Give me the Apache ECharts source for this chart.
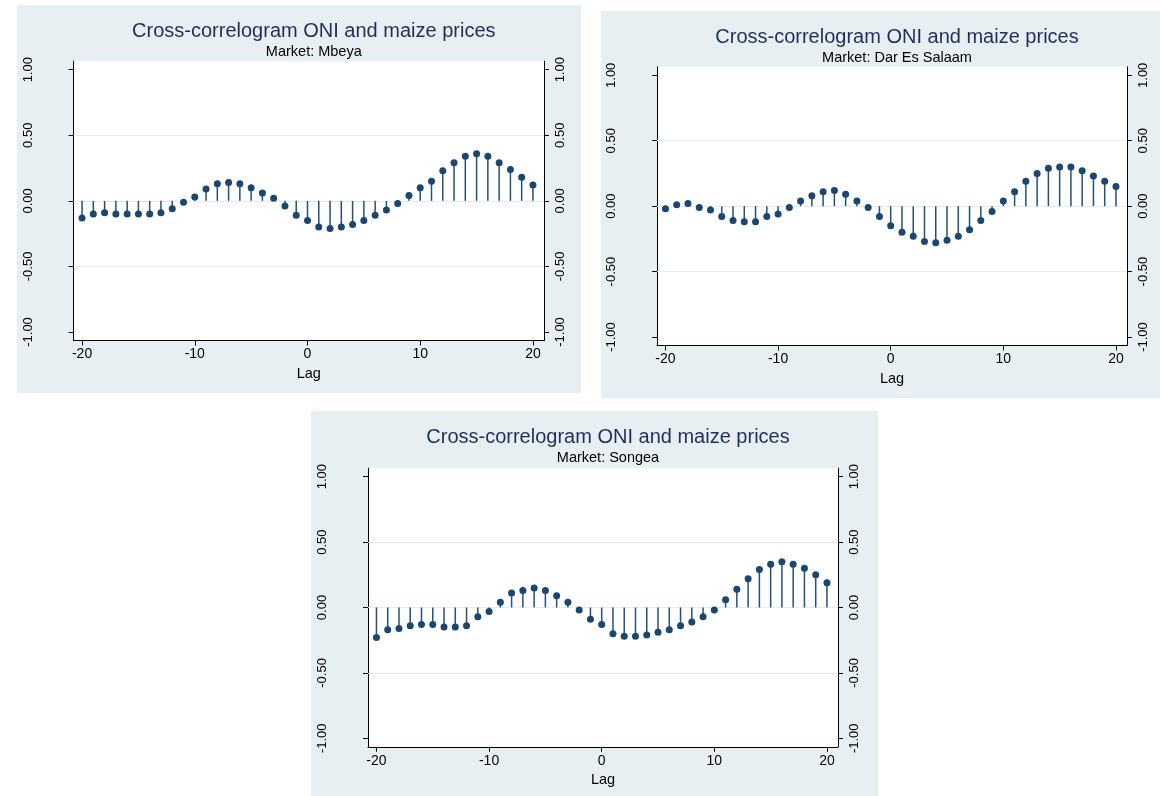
<!DOCTYPE html>
<html>
<head>
<meta charset="utf-8">
<script src="https://cdn.jsdelivr.net/npm/echarts@6/dist/echarts.min.js"></script>
<style>
  body { margin: 0; width: 1160px; height: 796px; background: #fff; position: relative; overflow: hidden; }
  .panel { position: absolute; background: #e8eff2; }
</style>
</head>
<body>
<div id="p1" class="panel" style="left:17px;top:5px;width:564px;height:388px"></div>
<div id="p2" class="panel" style="left:601px;top:11px;width:559px;height:387px"></div>
<div id="p3" class="panel" style="left:311px;top:411px;width:567px;height:385px"></div>
<script>
// lags on the x axis
const lags = [-20, -19, -18, -17, -16, -15, -14, -13, -12, -11, -10, -9, -8, -7, -6, -5, -4, -3, -2, -1,
    0, 1, 2, 3, 4, 5, 6, 7, 8, 9, 10, 11, 12, 13, 14, 15, 16, 17, 18, 19, 20];

// cross-correlations
const mbeya = [-0.13, -0.10, -0.09, -0.10, -0.10, -0.10, -0.10, -0.09, -0.06, -0.01,
    0.03, 0.09, 0.13, 0.14, 0.13, 0.10, 0.06, 0.02, -0.04, -0.11,
    -0.15, -0.20, -0.21, -0.20, -0.18, -0.15, -0.11, -0.07, -0.02, 0.04,
    0.10, 0.15, 0.23, 0.29, 0.34, 0.36, 0.34, 0.29, 0.24, 0.18, 0.12];
const darEsSalaam = [-0.02, 0.01, 0.02, -0.01, -0.03, -0.08, -0.11, -0.12, -0.12, -0.08,
    -0.06, -0.01, 0.04, 0.08, 0.11, 0.12, 0.09, 0.04, -0.01, -0.08,
    -0.15, -0.20, -0.23, -0.27, -0.28, -0.26, -0.23, -0.18, -0.11, -0.04,
    0.04, 0.11, 0.19, 0.25, 0.29, 0.30, 0.30, 0.27, 0.23, 0.19, 0.15];
const songea = [-0.23, -0.17, -0.16, -0.14, -0.13, -0.13, -0.15, -0.15, -0.14, -0.07,
    -0.03, 0.04, 0.11, 0.13, 0.15, 0.13, 0.09, 0.04, -0.02, -0.09,
    -0.13, -0.20, -0.22, -0.22, -0.21, -0.19, -0.17, -0.14, -0.11, -0.07,
    -0.02, 0.06, 0.14, 0.22, 0.29, 0.33, 0.35, 0.33, 0.30, 0.25, 0.19];

const xTicks = [-20, -10, 0, 10, 20];
const yTicks = [-1, -0.5, 0, 0.5, 1];
const gridValues = [-0.5, 0, 0.5];
const mainTitle = 'Cross-correlogram ONI and maize prices';
const markets = ['Mbeya', 'Dar Es Salaam', 'Songea'];

const NAVY = '#1a476f';
const FONT = '"Liberation Sans", Arial, sans-serif';

const panels = [
    { id: 'p1', name: markets[0], values: mbeya, grid: { left: 56.6, right: 37, top: 56.2, bottom: 52.5 } },
    { id: 'p2', name: markets[1], values: darEsSalaam, grid: { left: 56, right: 33, top: 55.8, bottom: 52.5 } },
    { id: 'p3', name: markets[2], values: songea, grid: { left: 57, right: 40, top: 57.2, bottom: 49.2 } },
];

const yAxisFor = (position, margin) => ({
    type: 'value',
    position: position,
    min: -1.065,
    max: 1.065,
    axisLine: { show: true, onZero: false, lineStyle: { color: '#000', width: 1 } },
    axisTick: { show: true, length: 5, customValues: yTicks, lineStyle: { color: '#000' } },
    axisLabel: {
        customValues: yTicks,
        rotate: 90,
        margin: margin,
        color: '#000',
        fontSize: 13,
        fontFamily: FONT,
        formatter: (v) => v.toFixed(2),
    },
    splitLine: { show: false },
});

const buildOption = (p, width) => {
    const cx = p.grid.left + (width - p.grid.left - p.grid.right) / 2;
    const pts = lags.map((l, i) => [l, p.values[i]]);
    return {
        animation: false,
        backgroundColor: 'transparent',
        title: [
            {
                text: mainTitle,
                left: cx,
                top: 11,
                textAlign: 'center',
                textStyle: { color: '#1f2f5c', fontSize: 20, fontWeight: 'normal', fontFamily: FONT },
            },
            {
                text: 'Market: ' + p.name,
                left: cx,
                top: 34,
                textAlign: 'center',
                textStyle: { color: '#000', fontSize: 14.5, fontWeight: 'normal', fontFamily: FONT },
            },
        ],
        grid: Object.assign({ show: true, backgroundColor: '#fff', borderWidth: 0, containLabel: false }, p.grid),
        xAxis: {
            type: 'value',
            min: -20.75,
            max: 20.98,
            name: 'Lag',
            nameLocation: 'middle',
            nameGap: 22,
            nameTextStyle: { color: '#000', fontSize: 14.5, fontFamily: FONT },
            axisLine: { show: true, onZero: false, lineStyle: { color: '#000', width: 1 } },
            axisTick: { show: true, length: 5, customValues: xTicks, lineStyle: { color: '#000' } },
            axisLabel: { customValues: xTicks, margin: 7, color: '#000', fontSize: 14, fontFamily: FONT },
            splitLine: { show: false },
        },
        yAxis: [yAxisFor('left', 39), yAxisFor('right', 10)],
        series: [
            {
                type: 'bar',
                data: pts,
                barWidth: 1.5,
                yAxisIndex: 0,
                silent: true,
                itemStyle: { color: '#245079' },
                markLine: {
                    silent: true,
                    symbol: 'none',
                    z: 1,
                    label: { show: false },
                    lineStyle: { color: '#e3ecef', width: 1, type: 'solid' },
                    data: gridValues.map((v) => ({ yAxis: v })),
                },
            },
            {
                type: 'scatter',
                data: pts,
                yAxisIndex: 0,
                symbol: 'circle',
                symbolSize: 7,
                silent: true,
                itemStyle: { color: NAVY, opacity: 1 },
                z: 3,
            },
        ],
    };
};

panels.forEach((p) => {
    const el = document.getElementById(p.id);
    const chart = echarts.init(el, null, { renderer: 'canvas' });
    chart.setOption(buildOption(p, el.clientWidth));
});
</script>
</body>
</html>
